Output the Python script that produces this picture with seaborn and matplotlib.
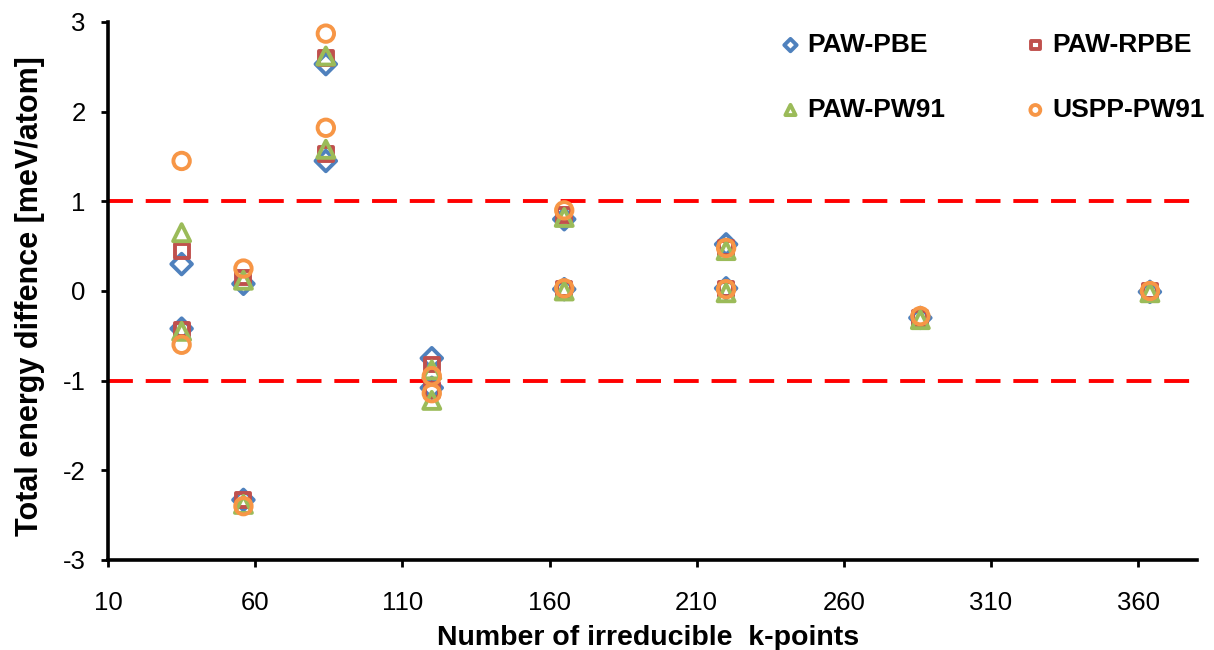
import matplotlib
matplotlib.use("Agg")
import matplotlib.pyplot as plt
import seaborn as sns
import pandas as pd

k_points = [35, 35, 56, 56, 84, 84, 120, 120, 165, 165, 220, 220, 286, 364]
paw_pbe = [0.30, -0.42, 0.08, -2.33, 2.53, 1.45, -0.75, -1.08, 0.80, 0.02, 0.52, 0.03, -0.30, -0.01]
paw_rpbe = [0.45, -0.43, 0.15, -2.33, 2.60, 1.53, -0.82, -1.10, 0.85, 0.02, 0.48, 0.02, -0.30, 0.00]
paw_pw91 = [0.65, -0.45, 0.12, -2.38, 2.62, 1.58, -0.88, -1.22, 0.82, 0.00, 0.45, -0.02, -0.32, -0.02]
uspp_pw91 = [1.45, -0.60, 0.25, -2.40, 2.87, 1.82, -0.95, -1.14, 0.90, 0.03, 0.48, 0.02, -0.28, 0.00]

series_names = ["PAW-PBE", "PAW-RPBE", "PAW-PW91", "USPP-PW91"]
series_values = [paw_pbe, paw_rpbe, paw_pw91, uspp_pw91]
colors = ["#4F81BD", "#C0504D", "#9BBB59", "#F79646"]
markers = ["D", "s", "^", "o"]
sizes = [110, 100, 150, 140]

x_ticks = [10, 60, 110, 160, 210, 260, 310, 360]
y_ticks = [-3, -2, -1, 0, 1, 2, 3]

rows = []
for name, vals in zip(series_names, series_values):
    for k, v in zip(k_points, vals):
        rows.append({"k": k, "dE": v, "series": name})
df = pd.DataFrame(rows)

sns.set_style("white")
plt.rcParams["font.family"] = ["Liberation Sans", "DejaVu Sans"]
plt.rcParams["axes.unicode_minus"] = False
for key in ("text.color", "axes.labelcolor", "xtick.color", "ytick.color"):
    plt.rcParams[key] = "black"

fig = plt.figure(figsize=(12.14, 6.5), dpi=100)
ax = fig.add_axes([0.089, 0.1385, 0.897, 0.8277])

for y in (1, -1):
    ax.axhline(y, color="#FF0000", lw=2.8, dashes=(6.4, 3.3), zorder=1)

for name, c, m, s in zip(series_names, colors, markers, sizes):
    sub = df[df["series"] == name]
    sns.scatterplot(data=sub, x="k", y="dE", ax=ax, marker=m, s=s,
                    facecolor="none", edgecolor=c, linewidth=2.8,
                    label=name, zorder=3)

ax.set_xlim(10, 380)
ax.set_ylim(-3, 3)
ax.set_xticks(x_ticks)
ax.set_yticks(y_ticks)
ax.tick_params(axis="both", direction="out", length=5, width=2,
               labelsize=18.5, bottom=True, left=True)
ax.tick_params(axis="x", pad=17)
ax.tick_params(axis="y", pad=11)
for side in ("top", "right"):
    ax.spines[side].set_visible(False)
for side in ("left", "bottom"):
    ax.spines[side].set_linewidth(2.6)
    ax.spines[side].set_color("black")

ax.set_xlabel("Number of irreducible  k-points", fontsize=20.5, fontweight="bold")
ax.set_ylabel("Total energy diffence [meV/atom]", fontsize=22, fontweight="bold")
ax.xaxis.set_label_coords(0.496, -0.12)
ax.yaxis.set_label_coords(-0.058, 0.49)

handles, labels = ax.get_legend_handles_labels()
order = [0, 2, 1, 3]
leg = ax.legend([handles[i] for i in order], [labels[i] for i in order],
                loc="upper right", ncol=2, frameon=False,
                bbox_to_anchor=(1205 / 1214, 1 - 33 / 650),
                bbox_transform=fig.transFigure,
                borderpad=0, borderaxespad=0,
                prop={"weight": "bold", "size": 19},
                handletextpad=0.25, columnspacing=3.0, labelspacing=1.55,
                markerscale=0.6, handlelength=0.8)

fig.savefig("out.png", dpi=100, facecolor="white")
